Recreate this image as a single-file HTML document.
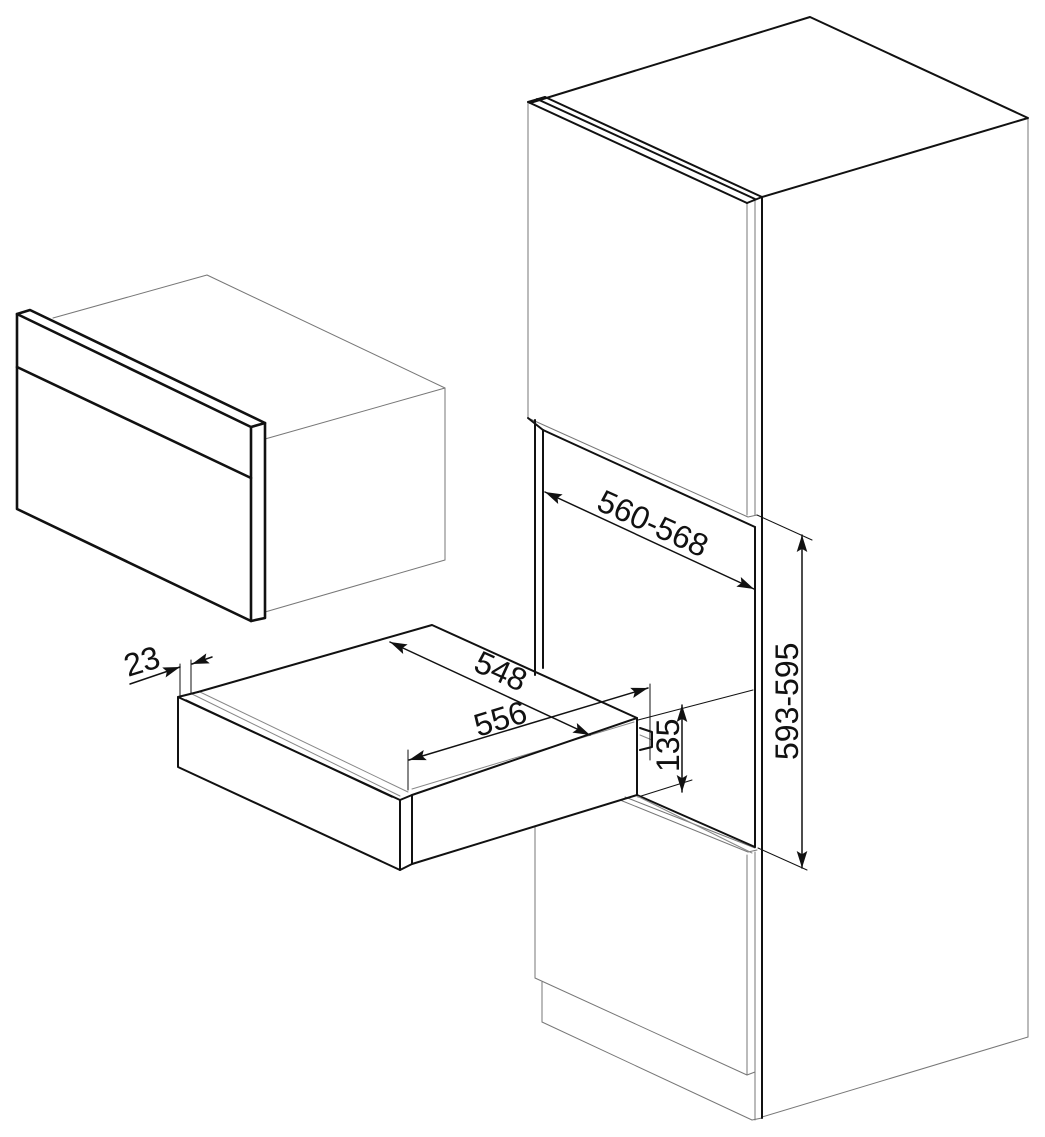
<!DOCTYPE html>
<html><head><meta charset="utf-8"><style>
html,body{margin:0;padding:0;background:#fff;}
svg{display:block;}
text{font-family:"Liberation Sans",sans-serif;fill:#111;}
</style></head><body>
<svg width="1045" height="1137" viewBox="0 0 1045 1137" xmlns="http://www.w3.org/2000/svg">
<defs>
<marker id="a" viewBox="0 0 16 10" refX="16" refY="5" markerWidth="17" markerHeight="11" orient="auto-start-reverse" markerUnits="userSpaceOnUse"><path d="M0,0 L16,5 L0,10 L3,5 z" fill="#111"/></marker>
</defs>
<g fill="none" stroke-linejoin="round" stroke-linecap="round">
<g stroke="#777" stroke-width="1">
<polyline points="53,318 207,275 445,388 265,439"/>
<line x1="445" y1="388" x2="445" y2="560"/>
<line x1="265" y1="612" x2="445" y2="560"/>
</g>
<g stroke="#111" stroke-width="2.6">
<polygon points="17,314 251,427 251,621 17,509"/>
<polyline points="17,314 30,310 265,423 251,427"/>
<polyline points="265,423 265,618 251,621"/>
<line x1="17" y1="367" x2="251" y2="478"/>
</g>
<g stroke="#777" stroke-width="1">
<line x1="528" y1="103" x2="528" y2="418"/>
<line x1="747" y1="203" x2="747" y2="515"/>
<line x1="755" y1="200" x2="755" y2="515"/>
<polyline points="528,418 748,517 757,515"/>
<line x1="1028" y1="118" x2="1028" y2="1037"/>
<line x1="762" y1="1117" x2="1028" y2="1037"/>
<line x1="535" y1="826" x2="535" y2="978"/>
<polyline points="620,800 748,852 757,850"/>
<polyline points="625,797 755,848"/>
<line x1="747" y1="855" x2="747" y2="1075"/>
<line x1="755" y1="852" x2="755" y2="1120"/>
<line x1="535" y1="978" x2="747" y2="1075"/>
<line x1="747" y1="1075" x2="755" y2="1072"/>
<line x1="542" y1="982" x2="542" y2="1022"/>
<line x1="542" y1="1022" x2="752" y2="1120"/>
<line x1="752" y1="1120" x2="762" y2="1118"/>
</g>
<g stroke="#111" stroke-width="2">
<polyline points="530,103 810,17 1028,118 762,197"/>
<line x1="528" y1="102" x2="747" y2="203"/>
<line x1="537" y1="99" x2="755" y2="199"/>
<line x1="545" y1="97" x2="762" y2="197"/>
<line x1="528" y1="102" x2="545" y2="97"/>
<line x1="747" y1="203" x2="762" y2="197"/>
<line x1="762" y1="197" x2="762" y2="1118"/>
<line x1="535" y1="420" x2="535" y2="675"/>
<line x1="543" y1="430" x2="543" y2="668"/>
<line x1="543" y1="430" x2="755" y2="527"/>
<line x1="755" y1="527" x2="755" y2="847"/>
<line x1="637" y1="795" x2="755" y2="847"/>
<line x1="528" y1="418" x2="543" y2="430"/>
</g>
<g stroke="#111" stroke-width="1">
<line x1="638" y1="720" x2="753" y2="690"/>
<line x1="638" y1="797" x2="692" y2="780"/>
<line x1="757" y1="515" x2="812" y2="540"/>
<line x1="758" y1="848" x2="807" y2="870"/>
<line x1="802" y1="535" x2="802" y2="868" stroke-width="1.5" marker-start="url(#a)" marker-end="url(#a)"/>
<line x1="545" y1="492" x2="754" y2="589" stroke-width="1.5" marker-start="url(#a)" marker-end="url(#a)"/>
</g>
<g stroke="#888" stroke-width="1">
<line x1="192" y1="694" x2="400" y2="796"/>
<line x1="200" y1="692" x2="408" y2="792"/>
<line x1="412" y1="789" x2="634" y2="722"/>
<line x1="640" y1="735" x2="652" y2="740"/>
<line x1="637" y1="796" x2="752" y2="853"/>
</g>
<g stroke="#111" stroke-width="2">
<polygon points="178,697 400,800 400,870 178,767"/>
<polyline points="400,800 412,795 412,864 400,870"/>
<line x1="412" y1="864" x2="637" y2="795"/>
<polyline points="412,795 637,718 637,795"/>
<polyline points="198,692 432,625 637,718"/>
<line x1="178" y1="697" x2="198" y2="692"/>
<line x1="186" y1="700" x2="392" y2="797" stroke-width="1.5"/>
<polyline points="640,728 652,732 652,747 640,750"/>
</g>
<g stroke="#111" stroke-width="1.5">
<line x1="390" y1="642" x2="590" y2="735" marker-start="url(#a)" marker-end="url(#a)"/>
<line x1="409" y1="760" x2="648" y2="688" marker-start="url(#a)" marker-end="url(#a)"/>
<line x1="408" y1="750" x2="408" y2="790" stroke-width="1"/>
<line x1="650" y1="684" x2="650" y2="760" stroke-width="1"/>
<line x1="682" y1="705" x2="682" y2="792" marker-start="url(#a)" marker-end="url(#a)"/>
<line x1="180" y1="664" x2="180" y2="697" stroke-width="1"/>
<line x1="191" y1="660" x2="191" y2="694" stroke-width="1"/>
<line x1="130" y1="684" x2="180" y2="667" marker-end="url(#a)"/>
<line x1="212" y1="657" x2="192" y2="664" marker-end="url(#a)"/>
</g>
</g>
<g font-size="32">
<text x="0" y="0" transform="translate(595,509) rotate(24.5)">560-568</text>
<text x="0" y="0" transform="translate(472,670) rotate(24.5)">548</text>
<text x="0" y="0" transform="translate(478,737) rotate(-17)">556</text>
<text x="0" y="0" transform="translate(679,772) rotate(-90)">135</text>
<text x="0" y="0" transform="translate(798,760) rotate(-90)">593-595</text>
<text x="0" y="0" transform="translate(128,677) rotate(-17)">23</text>
</g>
</svg>
</body></html>
